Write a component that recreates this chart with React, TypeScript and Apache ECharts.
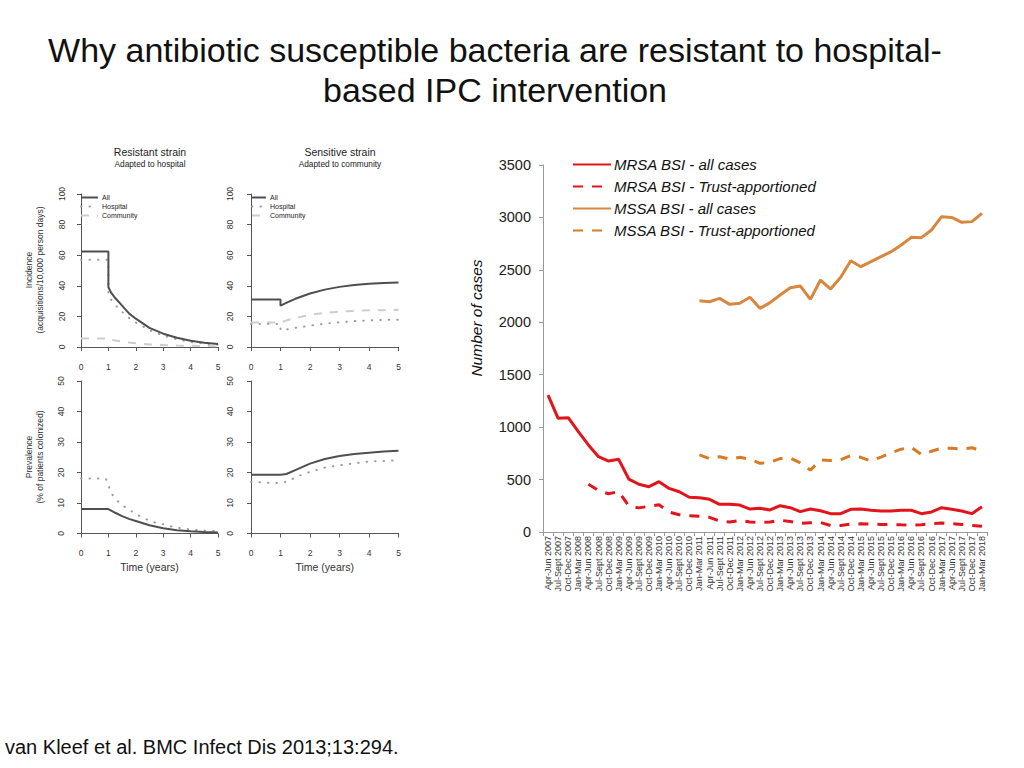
import React, { useEffect, useRef } from 'react';
import * as echarts from 'echarts';

const FONT = '"Liberation Sans", Arial, Helvetica, sans-serif';

// ---------- Right chart data ----------
const quarters = [
  'Apr-Jun 2007', 'Jul-Sept 2007', 'Oct-Dec 2007', 'Jan-Mar 2008',
  'Apr-Jun 2008', 'Jul-Sept 2008', 'Oct-Dec 2008', 'Jan-Mar 2009',
  'Apr-Jun 2009', 'Jul-Sept 2009', 'Oct-Dec 2009', 'Jan-Mar 2010',
  'Apr-Jun 2010', 'Jul-Sept 2010', 'Oct-Dec 2010', 'Jan-Mar 2011',
  'Apr-Jun 2011', 'Jul-Sept 2011', 'Oct-Dec 2011', 'Jan-Mar 2012',
  'Apr-Jun 2012', 'Jul-Sept 2012', 'Oct-Dec 2012', 'Jan-Mar 2013',
  'Apr-Jun 2013', 'Jul-Sept 2013', 'Oct-Dec 2013', 'Jan-Mar 2014',
  'Apr-Jun 2014', 'Jul-Sept 2014', 'Oct-Dec 2014', 'Jan-Mar 2015',
  'Apr-Jun 2015', 'Jul-Sept 2015', 'Oct-Dec 2015', 'Jan-Mar 2016',
  'Apr-Jun 2016', 'Jul-Sept 2016', 'Oct-Dec 2016', 'Jan-Mar 2017',
  'Apr-Jun 2017', 'Jul-Sept 2017', 'Oct-Dec 2017', 'Jan-Mar 2018',
];

const mrsaAll = [
  1306, 1084, 1090, 957, 830, 718, 677, 693, 505, 455, 432, 480, 416, 384, 331, 327,
  312, 264, 264, 257, 219, 226, 210, 251, 232, 194, 219, 203, 175, 175, 216, 219,
  207, 200, 200, 207, 207, 175, 191, 232, 216, 200, 175, 241,
];

const mrsaTrust = [
  null, null, null, null, 455, 395, 365, 385, 250, 230, 245, 260, 190, 165, 155, 150,
  140, 105, 95, 110, 95, 92, 95, 112, 100, 82, 88, 90, 62, 62, 75, 78,
  75, 72, 72, 68, 66, 70, 80, 85, 80, 72, 62, 55,
];

const mssaAll = [
  null, null, null, null, null, null, null, null, null, null, null, null, null, null, null,
  2206, 2196, 2228, 2171, 2181, 2238, 2133, 2187, 2260, 2330, 2346, 2219, 2403, 2317, 2429,
  2587, 2530, 2578, 2626, 2673, 2737, 2810, 2807, 2880, 3007, 3000, 2953, 2960, 3039,
];

const mssaTrust = [
  null, null, null, null, null, null, null, null, null, null, null, null, null, null, null,
  735, 700, 718, 696, 712, 693, 655, 665, 700, 705, 660, 590, 687, 682, 690,
  728, 712, 677, 715, 755, 790, 808, 740, 770, 800, 798, 790, 804, 770,
];

const seriesNames = [
  'MRSA BSI - all cases',
  'MRSA BSI - Trust-apportioned',
  'MSSA BSI - all cases',
  'MSSA BSI - Trust-apportioned',
];

// ---------- Left model panels data ----------
// Incidence, resistant strain
const riT = [0, 1, 1, 1.1, 1.25, 1.5, 1.75, 2, 2.5, 3, 3.5, 4, 4.5, 5];
const riAll = [62.5, 62.5, 39, 35.5, 32, 27, 22, 18.5, 12.5, 8.7, 6, 4.1, 2.8, 2];
const riHosp = [57, 57, 34, 31, 27.5, 23, 19, 16, 11, 7.4, 5, 3.3, 2.2, 1.5];
const riComm = [5.5, 5.5, 5, 4.6, 4.2, 3.6, 3, 2.5, 1.7, 1.3, 1.0, 0.8, 0.6, 0.5];

// Incidence, sensitive strain
const siT = [0, 1, 1, 1.25, 1.5, 2, 2.5, 3, 3.5, 4, 4.5, 5];
const siAll = [31, 31, 27, 29.3, 31.5, 35, 37.5, 39.3, 40.5, 41.3, 41.8, 42.2];
const siHosp = [15, 15, 11, 11.6, 12.5, 14, 15.2, 16.2, 16.9, 17.4, 17.7, 17.9];
const siComm = [16, 16, 16, 17.6, 19, 21, 22.3, 23.1, 23.6, 24, 24.1, 24.3];

// Prevalence, resistant strain
const rpAllT = [0, 1, 1.25, 1.5, 1.75, 2, 2.5, 3, 3.5, 4, 4.5, 5];
const rpAll = [8, 8, 6.8, 5.7, 4.8, 4.1, 2.7, 1.7, 1.1, 0.7, 0.5, 0.35];
const rpHospT = [0, 0.9, 1, 1.05, 1.2, 1.4, 1.65, 1.9, 2.15, 2.4, 2.7, 3, 3.3, 3.6, 4, 4.4, 5];
const rpHosp = [18, 18, 16.5, 14, 12, 10, 8.4, 7, 5.7, 4.6, 3.6, 3, 2.3, 1.8, 1.3, 1, 0.7];

// Prevalence, sensitive strain
const spAllT = [0, 1, 1.2, 1.5, 2, 2.5, 3, 3.5, 4, 4.5, 5];
const spAll = [19.3, 19.3, 19.5, 20.8, 22.9, 24.4, 25.4, 26.1, 26.5, 26.9, 27.1];
const spHospT = [0, 1, 1.3, 1.5, 2, 2.5, 3, 3.5, 4, 4.5, 5];
const spHosp = [16.9, 16.5, 17.2, 18.5, 20.2, 21.6, 22.4, 23, 23.6, 23.8, 24];

const modelNames = ['All', 'Hospital', 'Community'];

function pairs(t: number[], v: number[]) {
  return t.map((x, i) => [x, v[i]]);
}

export default function App() {
  const ref = useRef<HTMLDivElement>(null);

  useEffect(() => {
    if (!ref.current) return;
    const chart = echarts.init(ref.current, null, { renderer: 'svg' });

    const RED = '#e3141b';
    const ORANGE = '#d8873f';
    const ORANGE_D = '#da7a22';

    const allStyle = { color: '#4f4f4f', width: 2 };
    const hospStyle = { color: '#9c9c9c', width: 2, type: [0.5, 8] as any, cap: 'round' as any };
    const commStyle = { color: '#cdcdcd', width: 2, type: [8, 8] as any };

    const panels = [
      { left: 81, top: 194, width: 137, height: 153, ymax: 100, yint: 20, yoff: 4, xName: '' },
      { left: 251, top: 194, width: 147.5, height: 153, ymax: 100, yint: 20, yoff: 6, xName: '' },
      { left: 81, top: 381, width: 137, height: 152.5, ymax: 50, yint: 10, yoff: 5, xName: 'Time (years)' },
      { left: 251, top: 381, width: 147.5, height: 152.5, ymax: 50, yint: 10, yoff: 6, xName: 'Time (years)' },
    ];

    const grids: any[] = [{ left: 543, top: 165, width: 444, height: 367 }];
    const xAxes: any[] = [
      {
        type: 'category',
        gridIndex: 0,
        data: quarters,
        boundaryGap: true,
        axisLine: { lineStyle: { color: '#9a9a9a', width: 1 } },
        axisTick: { show: true, length: 4, lineStyle: { color: '#9a9a9a' } },
        axisLabel: { interval: 0, rotate: 90, fontSize: 9, color: '#333', fontFamily: FONT, margin: 4 },
        splitLine: { show: false },
      },
    ];
    const yAxes: any[] = [
      {
        type: 'value',
        gridIndex: 0,
        min: 0,
        max: 3500,
        interval: 500,
        axisLine: { show: true, lineStyle: { color: '#9a9a9a', width: 1 } },
        axisTick: { show: true, length: 4, lineStyle: { color: '#9a9a9a' } },
        axisLabel: {
          fontSize: 14.5,
          color: '#222',
          fontFamily: FONT,
          margin: 12,
          formatter: (v: number) => String(v),
        },
        splitLine: { show: false },
      },
    ];

    panels.forEach((p, i) => {
      grids.push({ left: p.left, top: p.top, width: p.width, height: p.height });
      xAxes.push({
        type: 'value',
        gridIndex: i + 1,
        min: 0,
        max: 5,
        interval: 1,
        offset: 8,
        axisLine: { show: true, lineStyle: { color: '#555', width: 1 } },
        axisTick: { show: true, length: 4, lineStyle: { color: '#555' } },
        axisLabel: { fontSize: 8.5, color: '#333', fontFamily: FONT, margin: 7 },
        splitLine: { show: false },
        name: p.xName,
        nameLocation: 'middle',
        nameGap: 20,
        nameTextStyle: { fontSize: 10.5, color: '#333', fontFamily: FONT },
      });
      yAxes.push({
        type: 'value',
        gridIndex: i + 1,
        min: 0,
        max: p.ymax,
        interval: p.yint,
        offset: p.yoff,
        axisLine: { show: true, lineStyle: { color: '#555', width: 1 } },
        axisTick: { show: true, length: 4, lineStyle: { color: '#555' } },
        axisLabel: { fontSize: 8.5, color: '#333', fontFamily: FONT, margin: 11, rotate: 90 },
        splitLine: { show: false },
      });
    });

    const modelLine = (name: string, gi: number, t: number[], v: number[], style: any) => ({
      type: 'line',
      name,
      xAxisIndex: gi,
      yAxisIndex: gi,
      data: pairs(t, v),
      symbol: 'none',
      silent: true,
      itemStyle: { color: style.color },
      lineStyle: style,
    });

    const caseLine = (name: string, data: (number | null)[], color: string, dashed: boolean) => ({
      type: 'line',
      name,
      xAxisIndex: 0,
      yAxisIndex: 0,
      data,
      symbol: 'none',
      silent: true,
      connectNulls: false,
      itemStyle: { color },
      lineStyle: { color, width: 3, type: dashed ? [10, 9] : 'solid' },
    });

    const series: any[] = [
      caseLine(seriesNames[0], mrsaAll, RED, false),
      caseLine(seriesNames[1], mrsaTrust, RED, true),
      caseLine(seriesNames[2], mssaAll, ORANGE, false),
      caseLine(seriesNames[3], mssaTrust, ORANGE_D, true),
      modelLine('Community', 1, riT, riComm, commStyle),
      modelLine('Hospital', 1, riT, riHosp, hospStyle),
      modelLine('All', 1, riT, riAll, allStyle),
      modelLine('Community', 2, siT, siComm, commStyle),
      modelLine('Hospital', 2, siT, siHosp, hospStyle),
      modelLine('All', 2, siT, siAll, allStyle),
      modelLine('Hospital', 3, rpHospT, rpHosp, hospStyle),
      modelLine('All', 3, rpAllT, rpAll, allStyle),
      modelLine('Hospital', 4, spHospT, spHosp, hospStyle),
      modelLine('All', 4, spAllT, spAll, allStyle),
    ];

    const smallLegend = (left: number, iw: number) => ({
      data: modelNames,
      orient: 'vertical',
      left,
      top: 194,
      padding: 0,
      itemWidth: iw,
      itemHeight: 6,
      itemGap: 2,
      selectedMode: false,
      itemStyle: { opacity: 0 },
      textStyle: { fontSize: 7, color: '#222', fontFamily: FONT, padding: [0, 0, 0, -1] },
    });

    const txt = (x: number, y: number, text: string, size: number, extra: any = {}) => ({
      type: 'text',
      x,
      y,
      silent: true,
      ...extra,
      style: {
        text,
        fontSize: size,
        fontFamily: extra.fontFamily || FONT,
        fontStyle: extra.fontStyle || 'normal',
        fill: extra.fill || '#333',
        align: extra.align || 'center',
        verticalAlign: 'middle',
        textAlign: extra.align || 'center',
        textVerticalAlign: 'middle',
        lineHeight: extra.lineHeight,
      },
    });

    const option: any = {
      animation: false,
      backgroundColor: '#ffffff',
      grid: grids,
      xAxis: xAxes,
      yAxis: yAxes,
      series,
      legend: [
        {
          data: seriesNames,
          orient: 'vertical',
          left: 572,
          top: 157,
          padding: 0,
          itemWidth: 38,
          itemHeight: 14,
          itemGap: 7,
          selectedMode: false,
          itemStyle: { opacity: 0 },
          textStyle: { fontSize: 15, fontStyle: 'italic', color: '#111', fontFamily: FONT, padding: [0, 0, 0, -2] },
        },
        smallLegend(80, 17),
        smallLegend(251, 14),
      ],
      graphic: [
        txt(495, 50, 'Why antibiotic susceptible bacteria are resistant to hospital-', 34, { fill: '#111' }),
        txt(495, 90, 'based IPC intervention', 34, { fill: '#111' }),
        txt(5, 747, 'van Kleef et al. BMC Infect Dis 2013;13:294.', 20, { align: 'left', fill: '#111' }),
        txt(150, 152, 'Resistant strain', 10.5, { fill: '#222' }),
        txt(150, 164, 'Adapted to hospital', 8.3, { fill: '#222' }),
        txt(340, 152, 'Sensitive strain', 10.5, { fill: '#222' }),
        txt(340, 164, 'Adapted to community', 8.3, { fill: '#222' }),
        txt(34.5, 270, 'Incidence\n(acquisitions/10,000 person days)', 8.5, { rotation: Math.PI / 2, lineHeight: 11 }),
        txt(34.5, 457, 'Prevalence\n(% of patients colonized)', 8.5, { rotation: Math.PI / 2, lineHeight: 11 }),
        txt(476, 318, 'Number of cases', 15.5, { rotation: Math.PI / 2, fontStyle: 'italic', fill: '#111' }),
      ],
    };

    chart.setOption(option);
    return () => chart.dispose();
  }, []);

  return (
    <div
      ref={ref}
      style={{ position: 'fixed', left: 0, top: 0, width: 1024, height: 768, background: '#fff' }}
    />
  );
}
